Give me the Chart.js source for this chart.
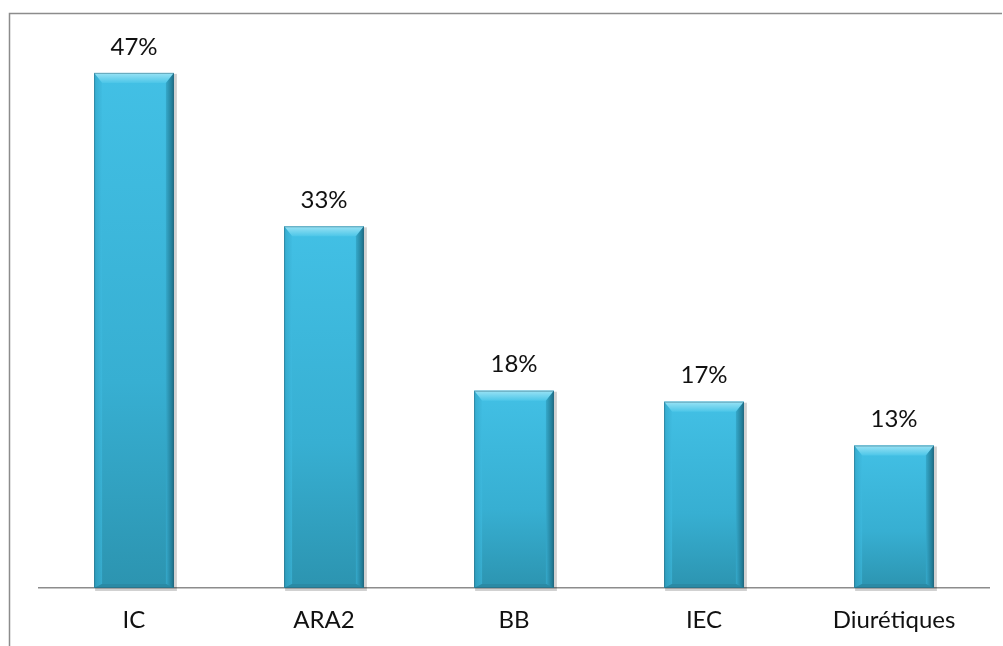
<!DOCTYPE html>
<html>
<head>
<meta charset="utf-8">
<script src="https://cdn.jsdelivr.net/npm/chart.js@4/dist/chart.umd.min.js"></script>
<style>
  html, body { margin: 0; padding: 0; background: #fff; }
  #wrap { width: 1003px; height: 646px; position: relative; }
</style>
</head>
<body>
<div id="wrap"><canvas id="barChart"></canvas></div>
<script>
const categories = ["IC", "ARA2", "BB", "IEC", "Diurétiques"];
const shares = [47, 33, 18, 17, 13];

const FONT = "Lato, 'Open Sans', sans-serif";

// frame around the chart: top and left edges only
const framePlugin = {
  id: "frame",
  beforeDraw(chart) {
    const { ctx, width, height } = chart;
    ctx.save();
    ctx.strokeStyle = "#8c8c8c";
    ctx.lineWidth = 1.5;
    ctx.beginPath();
    ctx.moveTo(width - 1, 13.5);
    ctx.lineTo(9.5, 13.5);
    ctx.lineTo(9.5, height);
    ctx.stroke();
    ctx.restore();
  },
};

// soft shadow under each bar, then bevel faces on top
const bevelPlugin = {
  id: "bevel",
  beforeDatasetsDraw(chart) {
    const { ctx } = chart;
    ctx.save();
    chart.getDatasetMeta(0).data.forEach(bar => {
      const { x, y, width, base } = bar.getProps(["x", "y", "width", "base"], true);
      ctx.fillStyle = "rgba(0,0,0,0.18)";
      ctx.fillRect(x - width / 2 + 1, y + 1, width + 2, base - y + 2);
    });
    ctx.restore();
  },
  afterDatasetsDraw(chart) {
    const { ctx } = chart;
    ctx.save();
    chart.getDatasetMeta(0).data.forEach(bar => {
      const { x, y, width, base } = bar.getProps(["x", "y", "width", "base"], true);
      const l = x - width / 2, r = x + width / 2, t = y, b = base;
      const bv = 10, bs = 8;

      const body = ctx.createLinearGradient(0, t, 0, b);
      body.addColorStop(0, "#42c0e5");
      body.addColorStop(0.6, "#37afd2");
      body.addColorStop(1, "#2c94b0");
      ctx.fillStyle = body;
      ctx.fillRect(l, t, width, b - t);

      // top face
      const top = ctx.createLinearGradient(0, t, 0, t + bv);
      top.addColorStop(0, "#9be3f5");
      top.addColorStop(1, "#4cc6e8");
      ctx.fillStyle = top;
      ctx.beginPath();
      ctx.moveTo(l, t);
      ctx.lineTo(r, t);
      ctx.lineTo(r - bs, t + bv);
      ctx.lineTo(l + bs, t + bv);
      ctx.closePath();
      ctx.fill();

      // left face
      const left = ctx.createLinearGradient(l, 0, l + bs, 0);
      left.addColorStop(0, "#2f9fc0");
      left.addColorStop(1, "#3fbbe0");
      ctx.fillStyle = left;
      ctx.beginPath();
      ctx.moveTo(l, t);
      ctx.lineTo(l + bs, t + bv);
      ctx.lineTo(l + bs, b - 4);
      ctx.lineTo(l, b);
      ctx.closePath();
      ctx.globalAlpha = 0.6;
      ctx.fill();
      ctx.globalAlpha = 1;

      // right face
      const right = ctx.createLinearGradient(r - bs, 0, r, 0);
      right.addColorStop(0, "#35a9cb");
      right.addColorStop(1, "#1d6f87");
      ctx.fillStyle = right;
      ctx.beginPath();
      ctx.moveTo(r, t);
      ctx.lineTo(r, b);
      ctx.lineTo(r - bs, b - 4);
      ctx.lineTo(r - bs, t + bv);
      ctx.closePath();
      ctx.fill();

      // bottom face
      ctx.fillStyle = "#2a8aa5";
      ctx.beginPath();
      ctx.moveTo(l, b);
      ctx.lineTo(r, b);
      ctx.lineTo(r - bs, b - 4);
      ctx.lineTo(l + bs, b - 4);
      ctx.closePath();
      ctx.fill();

      ctx.strokeStyle = "rgba(40,90,110,0.45)";
      ctx.lineWidth = 1;
      ctx.strokeRect(l + 0.5, t + 0.5, width - 1, b - t - 1);
    });
    ctx.restore();
  },
};

// percentage above each bar
const valueLabels = {
  id: "valueLabels",
  afterDatasetsDraw(chart) {
    const { ctx } = chart;
    ctx.save();
    ctx.font = "24px " + FONT;
    ctx.fillStyle = "#111";
    ctx.textAlign = "center";
    ctx.textBaseline = "middle";
    chart.getDatasetMeta(0).data.forEach((bar, i) => {
      ctx.fillText(shares[i] + "%", bar.x, bar.y - 26);
    });
    ctx.restore();
  },
};

new Chart("barChart", {
  type: "bar",
  data: {
    labels: categories,
    datasets: [
      {
        data: shares,
        backgroundColor: "#3bb8dc",
        borderWidth: 0,
        categoryPercentage: 0.84,
        barPercentage: 0.5,
      },
    ],
  },
  options: {
    responsive: true,
    maintainAspectRatio: false,
    animation: false,
    layout: {
      padding: { left: 39, right: 14, top: 40, bottom: 0 },
    },
    plugins: {
      legend: { display: false },
      tooltip: { enabled: false },
    },
    scales: {
      x: {
        grid: { display: false },
        border: { display: true, color: "#8c8c8c", width: 1.5 },
        ticks: {
          color: "#111",
          font: { family: FONT, size: 24 },
          padding: 10,
        },
        afterFit(scale) {
          scale.height = 58;
        },
      },
      y: {
        display: false,
        min: 0,
        max: 50,
      },
    },
  },
  plugins: [framePlugin, bevelPlugin, valueLabels],
});
</script>
</body>
</html>
